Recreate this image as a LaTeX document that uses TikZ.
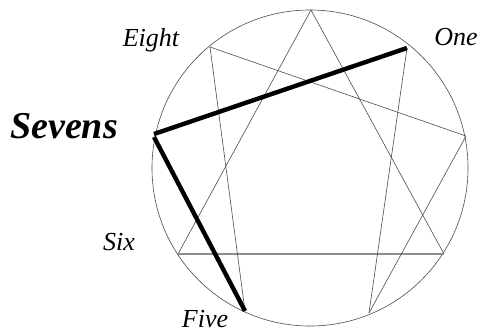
\documentclass[tikz,border=0pt]{standalone}
\usepackage{fontspec}
\setmainfont{Liberation Serif}
\begin{document}
\begin{tikzpicture}[x=1pt,y=-1pt,
  fineline/.style={draw=black!70,line width=0.6pt},
  baseline36/.style={draw=black!45,line width=1.1pt},
  heavyline/.style={draw=black,line width=4.4pt,line cap=butt},
  lbl/.style={inner sep=0pt,anchor=base,font=\fontsize{26}{28}\selectfont\itshape}]
\useasboundingbox (0,0) rectangle (480,333);
\fill[white] (0,0) rectangle (480,333);
\draw[fineline] (310,168) circle[radius=158pt];
\coordinate (p9) at (311,10);
\coordinate (p1) at (407,48);
\coordinate (p2) at (466,136);
\coordinate (p3) at (444,254);
\coordinate (p4) at (369,313);
\coordinate (p5) at (245,311);
\coordinate (p6) at (178,254);
\coordinate (p7) at (154,134);
\coordinate (p8) at (210,47);
% triangle
\draw[fineline] (p9) -- (p3);
\draw[fineline] (p9) -- (p6);
\draw[baseline36] (p3) -- (p6);
% hexad
\draw[fineline] (p1) -- (p4);
\draw[fineline] (p4) -- (p2);
\draw[fineline] (p2) -- (p8);
\draw[fineline] (p8) -- (p5);
\draw[fineline] (p5) -- (p7);
\draw[fineline] (p7) -- (p1);
% highlighted
\draw[heavyline] (p7) -- (p1);
\draw[heavyline] ([yshift=-3pt]p7) -- (p5);
% labels
\node[lbl] (eight) at (151,46) {Eight};
\node[lbl] (one) at (456,45) {One};
\node[lbl] (six) at (119,250) {Six};
\node[lbl] (five) at (205,327) {Five};
\node[inner sep=0pt,anchor=base,font=\fontsize{38}{40}\selectfont\bfseries\itshape] (sevens) at (64,138) {Sevens};
\end{tikzpicture}
\end{document}
